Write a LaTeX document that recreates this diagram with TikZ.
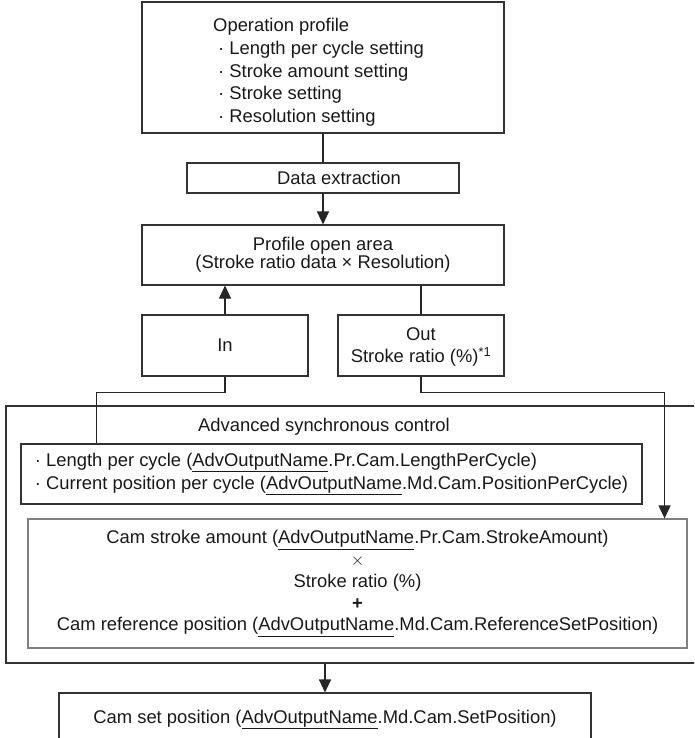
\documentclass[tikz,border=0pt]{standalone}
\usepackage{fontspec}
\setmainfont{Liberation Sans}
\usetikzlibrary{arrows.meta,positioning,calc}

\begin{document}
\begin{tikzpicture}[x=1pt, y=-1pt,
		every node/.style={font=\fontsize{18.4}{22.8}\selectfont, text=black!90},
		blk/.style={draw=black!80, line width=1.1pt, inner sep=0pt},
		lnk/.style={draw=black!85, line width=1.1pt},
		flow/.style={-{Triangle[length=13pt,width=12pt]}}]

		% === page frame ===
		\clip (0,0) rectangle (694,738);

		% === profile side ===
		\node[blk, minimum width=362, minimum height=131, align=left] (oprof) at (323,67.5)
			{\rule{0pt}{23pt}Operation profile\\ \hspace*{5pt}· Length per cycle setting\hspace*{9pt}\mbox{}\\ \hspace*{5pt}· Stroke amount setting\\
			 \hspace*{5pt}· Stroke setting\\ \hspace*{5pt}· Resolution setting};
		\node[blk, minimum width=272, minimum height=30] (dext) at (323,178) {\hspace*{32pt}Data extraction};
		\node[blk, minimum width=362, minimum height=60, align=center,
			font=\fontsize{18.4}{18}\selectfont] (parea) at (323,255)
			{Profile open area\\(Stroke ratio data × Resolution)};
		\node[blk, minimum width=166, minimum height=61] (pin) at (225,345.5) {In};
		\node[blk, minimum width=166, minimum height=61, align=center] (pout) at (421,345.5)
			{\rule{0pt}{16pt}Out\\Stroke ratio (\%)\textsuperscript{*1}};

		% === advanced synchronous control ===
		\node[blk, minimum width=714, minimum height=257] (asc) at (363,534.5) {};
		\node (asctitle) at (324,427) {Advanced synchronous control};
		\node[blk, minimum width=621, minimum height=60, align=left] (lpc) at (331.5,474)
			{· Length per cycle (\underline{AdvOutputName}.Pr.Cam.LengthPerCycle)\\
			 · Current position per cycle (\underline{AdvOutputName}.Md.Cam.PositionPerCycle)};
		\node[blk, draw=black!50, minimum width=659, minimum height=129, align=center,
			font=\fontsize{18.4}{21.75}\selectfont] (cstroke) at (357.5,583.5)
			{Cam stroke amount (\underline{AdvOutputName}.Pr.Cam.StrokeAmount)\\
			 {\fontsize{16}{16}\selectfont$\times$}\\
			 Stroke ratio (\%)\\
			 \textbf{+}\\
			 Cam reference position (\underline{AdvOutputName}.Md.Cam.ReferenceSetPosition)};
		\node[blk, minimum width=532, minimum height=48] (cset) at (325,717)
			{\rule{0pt}{18pt}Cam set position (\underline{AdvOutputName}.Md.Cam.SetPosition)};

		% === connectors ===
		\draw[lnk] (oprof) -- (dext);
		\draw[lnk, flow] (dext) -- (parea);
		\draw[lnk, flow] (pin.north) -- (pin.north |- parea.south);
		\draw[lnk] (parea.south -| pout.north) -- (pout.north);
		\draw[lnk] (pin.south) -- ++(0,16) -| ([xshift=76pt]lpc.north west);
		\draw[lnk, flow] (pout.south) -- ++(0,16) -| ([xshift=-23pt]cstroke.north east);
		\draw[lnk, flow] (cset.north |- asc.south) -- (cset.north);
	\end{tikzpicture}
\end{document}
